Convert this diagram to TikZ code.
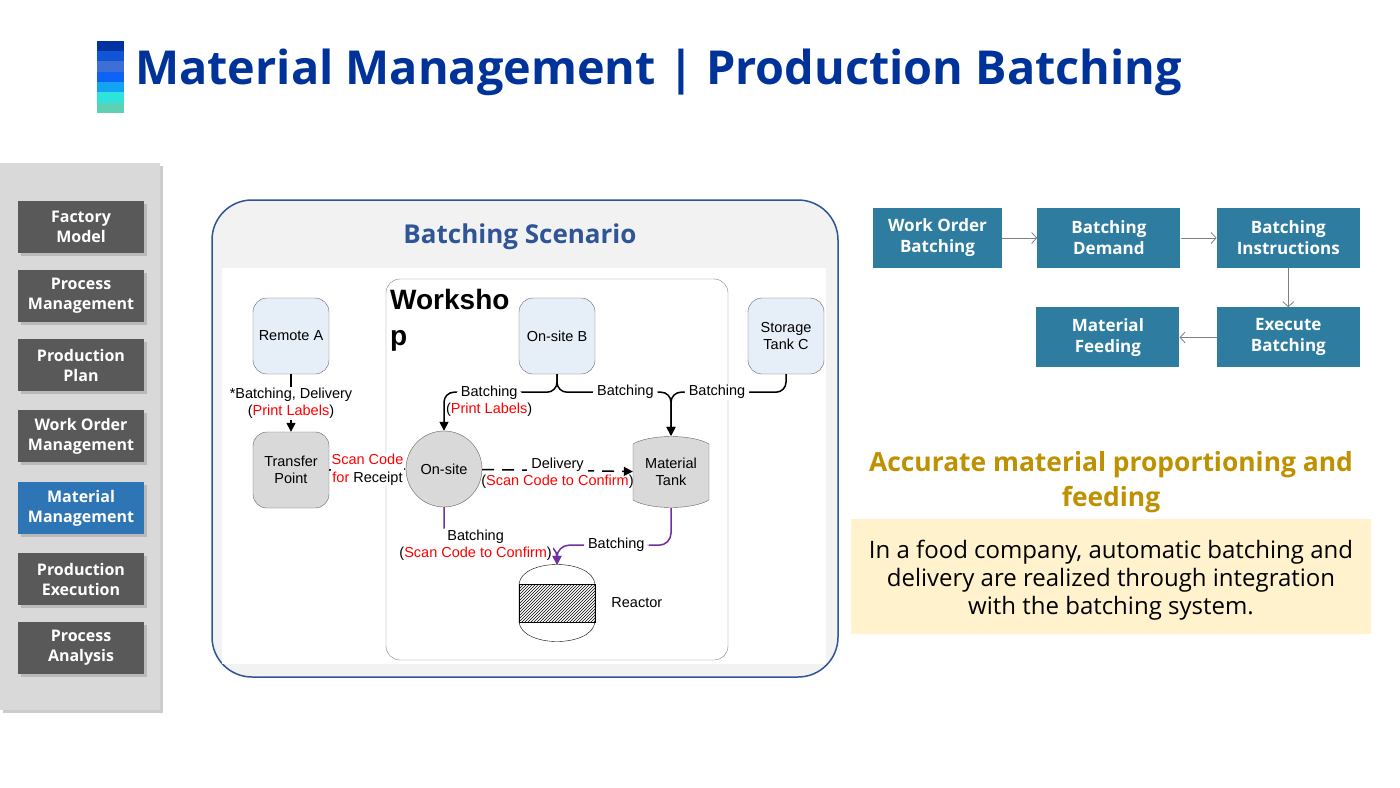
\documentclass[tikz,border=0pt]{standalone}
\usepackage{fontspec}
\setmainfont{Open Sans}
\newfontfamily\arialfont{Liberation Sans}
\usepackage{tikz}
\usetikzlibrary{shapes,arrows,arrows.meta,positioning,patterns,shadows}

\definecolor{titleblue}{RGB}{0,51,153}
\definecolor{sidegray}{RGB}{217,217,217}
\definecolor{btngray}{RGB}{89,89,89}
\definecolor{btnblue}{RGB}{46,117,182}
\definecolor{frameblue}{RGB}{47,85,151}
\definecolor{paleblue}{RGB}{230,238,248}
\definecolor{boxgray}{RGB}{217,217,217}
\definecolor{flowteal}{RGB}{46,125,161}
\definecolor{gold}{RGB}{191,144,0}
\definecolor{cream}{RGB}{255,242,204}
\definecolor{batchpurple}{RGB}{112,48,160}

\tikzstyle{menubtn} = [
    rectangle, minimum width=126pt, minimum height=52pt, fill=btngray,
    text=white, align=center, font=\fontsize{16}{20}\selectfont\bfseries,
    drop shadow={shadow xshift=3pt, shadow yshift=-3pt, opacity=0.35}]
\tikzstyle{site} = [
    rectangle, rounded corners=14pt, minimum width=76pt, minimum height=76pt,
    draw=gray!80!black, fill=paleblue, align=center,
    font=\arialfont\fontsize{14.5}{17.5}\selectfont]
\tikzstyle{lbl} = [align=center, font=\arialfont\fontsize{14.5}{17.5}\selectfont,
    inner ysep=1pt, inner xsep=4pt]
\tikzstyle{arrow} = [line width=1.5pt, -{Triangle[length=9pt,width=9pt]}]
\tikzstyle{flowbox} = [
    rectangle, minimum width=143pt, minimum height=60pt, fill=flowteal,
    text=white, align=center, font=\fontsize{17}{21}\selectfont\bfseries]
\tikzstyle{flowarrow} = [draw=gray, line width=0.8pt, -{Straight Barb[length=5pt,width=11pt]}]

\begin{document}
\begin{tikzpicture}[x=1pt, y=-1pt]
\useasboundingbox (0,0) rectangle (1400,787);
\fill[white] (0,0) rectangle (1400,787);

% title
\fill[fill={rgb,255:red,0;green,51;blue,160}] (97,41) rectangle (124,51);
\fill[fill={rgb,255:red,17;green,85;blue,214}] (97,51) rectangle (124,61);
\fill[fill={rgb,255:red,61;green,111;blue,214}] (97,61) rectangle (124,72);
\fill[fill={rgb,255:red,13;green,99;blue,245}] (97,72) rectangle (124,82);
\fill[fill={rgb,255:red,19;green,163;blue,242}] (97,82) rectangle (124,92);
\fill[fill={rgb,255:red,46;green,227;blue,220}] (97,92) rectangle (124,103);
\fill[fill={rgb,255:red,94;green,209;blue,181}] (97,103) rectangle (124,113);
\node (title) [anchor=west, text=titleblue, inner sep=0pt,
    font=\fontsize{46.8}{50}\selectfont\bfseries] at (135,72)
    {Material Management | Production Batching};

% side menu
\path[fill=sidegray, drop shadow={shadow xshift=3pt, shadow yshift=-3pt, opacity=0.4}]
    (0,163) rectangle (160,710);
\node (factory) [menubtn] at (81,227) {Factory\\Model};
\node (process) [menubtn] at (81,296) {Process\\Management};
\node (plan) [menubtn] at (81,365) {Production\\Plan};
\node (workorder) [menubtn] at (81,436) {Work Order\\Management};
\node (material) [menubtn, fill=btnblue] at (81,508) {Material\\Management};
\node (execution) [menubtn] at (81,579) {Production\\Execution};
\node (analysis) [menubtn] at (81,648) {Process\\Analysis};

% batching scenario frame
\draw[frameblue, line width=1.5pt, fill={rgb,255:red,242;green,242;blue,242}, rounded corners=40pt]
    (212,200) rectangle (838,677);
\fill[white] (222,268) rectangle (826,664);
\node (scenario) [text=frameblue, font=\fontsize{26}{30}\selectfont\bfseries] at (520,237)
    {Batching Scenario};
\draw[gray, rounded corners=14pt] (386,279) rectangle (728,660);
\node (workshop) [anchor=north west, align=left, inner sep=0pt,
    font=\arialfont\fontsize{28}{36}\selectfont\bfseries] at (390,289) {Worksho\\p};

\node (remoteA) [site] at (291,336) {Remote A};
\node (onsiteB) [site] at (557,336) {On-site B};
\node (storageC) [site] at (786,336) {Storage\\Tank C};
\node (transfer) [site, fill=boxgray] at (291,470) {Transfer\\Point};
\node (onsite) [circle, minimum size=76pt, draw=gray!80!black, fill=boxgray,
    font=\arialfont\fontsize{14.5}{17.5}\selectfont] at (444,469) {On-site};

\fill[boxgray, draw=gray!80!black] (633,444) .. controls (650,434) and (692,434) .. (709,444)
    -- (709,500) .. controls (692,510) and (650,510) .. (633,500) -- cycle;
\node (tank) [minimum width=76pt, minimum height=72pt, align=center,
    font=\arialfont\fontsize{14.5}{17.5}\selectfont] at (671,472) {Material\\Tank};

\draw[fill=white] (519,584) .. controls (522,558) and (592,558) .. (595,584)
    -- (595,622) .. controls (592,648) and (522,648) .. (519,622) -- cycle;
\fill[pattern=north east lines] (519,584) rectangle (595,622);
\draw (519,584) rectangle (595,622);
\node (reactor) [minimum width=76pt, minimum height=76pt] at (557,603) {};
\node (reactorlbl) [lbl, right=12pt of reactor] {Reactor};

% connectors
\draw[arrow] (remoteA) -- node[lbl, fill=white]
    {*Batching, Delivery\\(\textcolor{red}{Print Labels})} (transfer);
\draw[arrow] (transfer.east) -- node[lbl, fill=white, inner xsep=1pt]
    {\textcolor{red}{Scan Code}\\\textcolor{red}{for} Receipt} (onsite.west);
\draw[arrow, rounded corners=10pt] (onsiteB.south) -- ++(0,18) -|
    node[lbl, fill=white, pos=0.3, yshift=-1pt] {Batching}
    node[lbl, pos=0.3, yshift=-18pt] {(\textcolor{red}{Print Labels})} (onsite.north);
\draw[arrow, rounded corners=10pt] (onsiteB.south) -- ++(0,18) -|
    node[lbl, fill=white, pos=0.3] {Batching} (tank.north);
\draw[arrow, rounded corners=10pt] (storageC.south) -- ++(0,18) -|
    node[lbl, fill=white, pos=0.3] {Batching} (tank.north);
\draw[arrow, dash pattern=on 12pt off 8pt] (onsite) --
    node[lbl, fill=white, yshift=6pt] {Delivery}
    node[lbl, yshift=-11pt, inner xsep=1pt] {(\textcolor{red}{Scan Code to Confirm})} (tank);
\draw[arrow, batchpurple, rounded corners=12pt] (onsite.south) -- ++(0,38) -|
    node[lbl, fill=white, pos=0.14, text=black, inner xsep=1pt]
    {Batching\\(\textcolor{red}{Scan Code to Confirm})} (reactor.north);
\draw[arrow, batchpurple, rounded corners=12pt] (tank.south) -- ++(0,37) -|
    node[lbl, fill=white, pos=0.24, text=black] {Batching} (reactor.north);

% batching flow
\node (woBatch) [flowbox, minimum width=129pt] at (937.5,238) {Work Order\\Batching};
\node (demand) [flowbox, right=35pt of woBatch] {Batching\\Demand};
\node (instr) [flowbox, right=36pt of demand] {Batching\\Instructions};
\node (execute) [flowbox, below=39pt of instr] {Execute\\Batching};
\node (feeding) [flowbox, left=37pt of execute] {Material\\Feeding};
\draw[flowarrow] (woBatch) -- (demand);
\draw[flowarrow] (demand) -- (instr);
\draw[flowarrow] (instr) -- (execute);
\draw[flowarrow] (execute) -- (feeding);

% highlight
\node (accurate) [text=gold, align=center, font=\fontsize{26.4}{35}\selectfont\bfseries]
    at (1111,482) {Accurate material proportioning and\\feeding};
\node (usecase) [fill=cream, minimum width=520pt, minimum height=115pt, align=center,
    font=\fontsize{24}{28}\selectfont] at (1111,576.5)
    {\parbox{510pt}{\vspace*{8pt}\centering In a food company, automatic batching and\\delivery are realized through integration\\with the batching system.}};
\end{tikzpicture}
\end{document}
